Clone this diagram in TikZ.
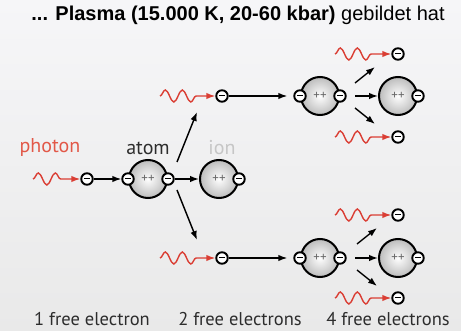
\documentclass[tikz,border=0pt]{standalone}
\usepackage{fontspec}
\setmainfont{Liberation Sans}
\newfontfamily\labelfont{PT Sans}
\usetikzlibrary{arrows.meta,decorations.pathmorphing}
\definecolor{bgtop}{RGB}{246,246,248}
\definecolor{bgbottom}{RGB}{233,233,233}
\definecolor{photonred}{RGB}{218,62,52}
\definecolor{labelred}{RGB}{226,88,72}
\definecolor{iongray}{RGB}{198,198,198}
\definecolor{plusgray}{RGB}{105,105,105}
\definecolor{ballouter}{RGB}{188,188,188}
\definecolor{captiongray}{RGB}{45,45,45}
\tikzset{
  >={Latex[length=9pt,width=6.5pt]},
  title/.style={font=\fontsize{20}{22}\selectfont,text=black},
  caption/.style={font=\labelfont\fontsize{18.5}{20}\selectfont,text=captiongray},
  tag/.style={font=\labelfont\fontsize{20}{22}\selectfont,text=captiongray},
  nucleus/.style={
    circle,
    draw=black,
    line width=2pt,
    inner color=white,
    outer color=ballouter,
    minimum size=38pt,
    inner sep=0pt,
    font=\labelfont\fontsize{13}{13}\selectfont,
    text=plusgray
  },
  electron/.style={
    circle,
    draw=black,
    line width=1.9pt,
    fill=white,
    minimum size=11.5pt,
    inner sep=0pt,
    path picture={
      \draw[line width=1pt] ([xshift=-2.6pt]path picture bounding box.center)
        -- ([xshift=2.6pt]path picture bounding box.center);
    }
  },
  arrow/.style={->,draw=black,line width=1.4pt},
  photon/.style={
    ->,
    draw=photonred,
    line width=1.4pt,
    decorate,
    decoration={snake,amplitude=6pt,segment length=17pt,post length=12pt}
  }
}

\begin{document}
\begin{tikzpicture}[x=1pt,y=-1pt]

  \shade[top color=bgtop,bottom color=bgbottom] (0,0) rectangle (461,331);
  \useasboundingbox (0,0) rectangle (461,331);

  \node[title] at (238,15) (title) {\textbf{... Plasma (15.000 K, 20-60 kbar)} gebildet hat};

  \node[tag,text=labelred] at (50,148) (photonlabel) {photon};
  \node[tag] at (148,148) (atomlabel) {atom};
  \node[tag,text=iongray] at (222,148) (ionlabel) {ion};

  \coordinate (w0) at (33,179);
  \node[electron] at (87,179) (e0) {};
  \node[nucleus] at (148,179) (atom) {++};
  \node[electron] at (atom.west) (atomL) {};
  \node[electron] at (atom.east) (atomR) {};
  \node[nucleus] at (219,179) (ion) {++};
  \node[electron] at (ion.east) (ionR) {};

  \coordinate (forkup) at (177,162);
  \coordinate (forkupend) at (197,112);
  \coordinate (forkdown) at (177,190);
  \coordinate (forkdownend) at (197,240);

  % upper branch
  \coordinate (wup) at (160,96);
  \node[electron] at (222,96) (eup) {};
  \node[nucleus] at (320,96) (nucup) {++};
  \node[electron] at (nucup.west) (nucupL) {};
  \node[electron] at (nucup.east) (nucupR) {};
  \node[nucleus] at (398,96) (ionup) {++};
  \node[electron] at (ionup.east) (ionupR) {};
  \coordinate (wuptop) at (335,54);
  \node[electron] at (398,54) (euptop) {};
  \coordinate (wupbot) at (335,137);
  \node[electron] at (398,137) (eupbot) {};
  \coordinate (splitup1) at (355,83);
  \coordinate (splitup1end) at (375,67);
  \coordinate (splitup2) at (355,96);
  \coordinate (splitup3) at (355,108);
  \coordinate (splitup3end) at (375,124);

  % lower branch
  \coordinate (wdown) at (160,258);
  \node[electron] at (222,258) (edown) {};
  \node[nucleus] at (320,258) (nucdown) {++};
  \node[electron] at (nucdown.west) (nucdownL) {};
  \node[electron] at (nucdown.east) (nucdownR) {};
  \node[nucleus] at (398,258) (iondown) {++};
  \node[electron] at (iondown.east) (iondownR) {};
  \coordinate (wdowntop) at (335,215);
  \node[electron] at (398,215) (edowntop) {};
  \coordinate (wdownbot) at (335,298);
  \node[electron] at (398,298) (edownbot) {};
  \coordinate (splitdown1) at (357,244);
  \coordinate (splitdown1end) at (377,228);
  \coordinate (splitdown2) at (355,258);
  \coordinate (splitdown3) at (357,270);
  \coordinate (splitdown3end) at (377,286);

  \node[caption] at (92,319) (count1) {1 free electron};
  \node[caption] at (240,319) (count2) {2 free electrons};
  \node[caption] at (388,319) (count4) {4 free electrons};

  \draw[photon] (w0) -- (e0);
  \draw[arrow] (e0) -- (atomL);
  \draw[arrow] (atomR) -- (ion);
  \draw[arrow] (forkup) -- (forkupend);
  \draw[arrow] (forkdown) -- (forkdownend);

  \draw[photon] (wup) -- (eup);
  \draw[arrow,shorten >=6pt] (eup) -- (nucupL);
  \draw[arrow] (splitup1) -- (splitup1end);
  \draw[arrow] (splitup2) -- (ionup);
  \draw[arrow] (splitup3) -- (splitup3end);
  \draw[photon] (wuptop) -- (euptop);
  \draw[photon] (wupbot) -- (eupbot);

  \draw[photon] (wdown) -- (edown);
  \draw[arrow,shorten >=6pt] (edown) -- (nucdownL);
  \draw[arrow] (splitdown1) -- (splitdown1end);
  \draw[arrow] (splitdown2) -- (iondown);
  \draw[arrow] (splitdown3) -- (splitdown3end);
  \draw[photon] (wdowntop) -- (edowntop);
  \draw[photon] (wdownbot) -- (edownbot);

\end{tikzpicture}
\end{document}
